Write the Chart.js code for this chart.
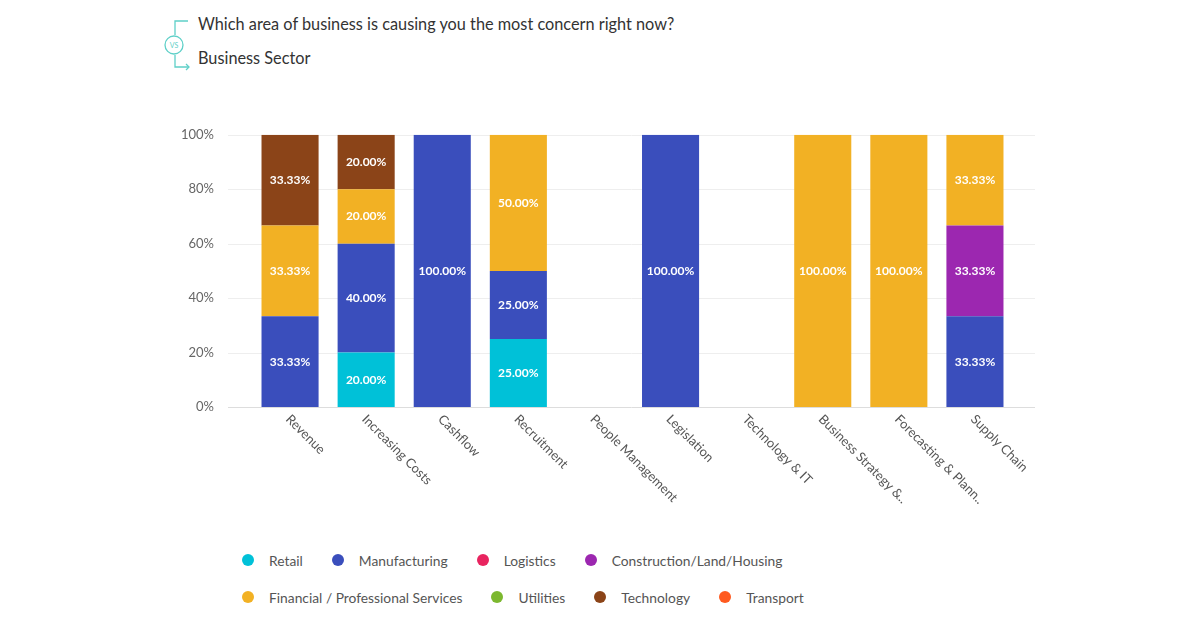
<!DOCTYPE html>
<html><head><meta charset="utf-8">
<script src="https://cdn.jsdelivr.net/npm/chart.js@4"></script>
<style>
body{margin:0;background:#fff;font-family:Lato,sans-serif;width:1200px;height:628px;position:relative;overflow:hidden}
.t{position:absolute;left:198px;color:#333;font-size:16.3px}
#wrap{position:absolute;left:180px;top:97px;width:860px;height:416px}
.lrow{position:absolute;left:242px;display:flex;font-size:13.8px;color:#555}
.li{display:flex;align-items:center;margin-right:29px;height:22px}
.dot{width:12px;height:12px;border-radius:50%;margin-right:15px}
</style></head><body>
<svg style="position:absolute;left:160px;top:18px" width="34" height="54" viewBox="0 0 34 54">
<g fill="none" stroke="#5fd0c8" stroke-width="1.3">
<path d="M28 3 H15 V17"/><circle cx="14" cy="27" r="9"/><path d="M15 37 V49 H29"/><path d="M26 46 L29 49 L26 52"/>
</g><text x="14" y="30" font-size="7" fill="#5fd0c8" text-anchor="middle" font-family="Lato">VS</text></svg>
<div class="t" style="top:14px">Which area of business is causing you the most concern right now?</div>
<div class="t" style="top:48px">Business Sector</div>
<div id="wrap"><canvas id="c"></canvas></div>
<div class="lrow" id="r0" style="top:549px"></div>
<div class="lrow" id="r1" style="top:586px"></div>
<script>
const categories=["Revenue","Increasing Costs","Cashflow","Recruitment","People Management","Legislation","Technology & IT","Business Strategy &..","Forecasting & Plann..","Supply Chain"];
const seriesNames=["Retail","Manufacturing","Logistics","Construction/Land/Housing","Financial / Professional Services","Utilities","Technology","Transport"];
const colors=["#00c1d8","#3a4ebc","#e8245f","#9c27b0","#f2b124","#7cb82f","#8b4418","#ff5a1f"];
const retail=[0,20,0,25,0,0,0,0,0,0];
const manufacturing=[33.33,40,100,25,0,100,0,0,0,33.33];
const logistics=[0,0,0,0,0,0,0,0,0,0];
const construction=[0,0,0,0,0,0,0,0,0,33.33];
const financial=[33.33,20,0,50,0,0,0,100,100,33.33];
const utilities=[0,0,0,0,0,0,0,0,0,0];
const technology=[33.33,20,0,0,0,0,0,0,0,0];
const transport=[0,0,0,0,0,0,0,0,0,0];
const yTicks=["0%","20%","40%","60%","80%","100%"];
const values=[retail,manufacturing,logistics,construction,financial,utilities,technology,transport];

[[0,1,2,3],[4,5,6,7]].forEach((r,k)=>{const row=document.getElementById('r'+k);r.forEach(i=>{const d=document.createElement('div');d.className='li';d.innerHTML='<span class="dot" style="background:'+colors[i]+'"></span>'+seriesNames[i];row.appendChild(d);});});

const gridPlugin={id:'grid',beforeDatasetsDraw(ch){
 const ctx=ch.ctx,ys=ch.scales.y,a=ch.chartArea;ctx.save();ctx.lineWidth=1;
 ys.ticks.forEach(t=>{const y=Math.round(ys.getPixelForValue(t.value))+0.5;ctx.strokeStyle=t.value===0?'#ddd':'#eee';ctx.beginPath();ctx.moveTo(a.left-24,y);ctx.lineTo(a.right+22,y);ctx.stroke();});
 ctx.restore();}};
const labelsPlugin={id:'lbl',afterDatasetsDraw(ch){
 const ctx=ch.ctx;ctx.save();ctx.font='bold 12px Lato';ctx.fillStyle='#fff';ctx.textAlign='center';ctx.textBaseline='middle';
 ch.data.datasets.forEach((ds,di)=>{ch.getDatasetMeta(di).data.forEach((el,i)=>{const v=ds.data[i];if(!v)return;const p=el.getCenterPoint();ctx.fillText(v.toFixed(2)+'%',p.x,p.y);});});
 const xs=ch.scales.x;ctx.font='13px Lato';ctx.fillStyle='#555';ctx.textAlign='left';
 categories.forEach((c,i)=>{const x=xs.getPixelForTick(i);ctx.save();ctx.translate(x-2,xs.top+10);ctx.rotate(Math.PI/4);ctx.fillText(c,0,0);ctx.restore();});
 ctx.restore();}};

new Chart(document.getElementById('c'),{type:'bar',
data:{labels:categories,datasets:values.map((v,i)=>({label:seriesNames[i],data:v,backgroundColor:colors[i],barPercentage:0.75,categoryPercentage:1}))},
options:{animation:false,responsive:true,maintainAspectRatio:false,
layout:{padding:{top:4,bottom:98,right:27}},
plugins:{legend:{display:false},tooltip:{enabled:false}},
scales:{x:{stacked:true,ticks:{display:false},grid:{display:false},border:{display:false}},
y:{stacked:true,min:0,max:100,afterFit:(s)=>{s.width=72;},ticks:{stepSize:20,padding:30,color:'#666',font:{size:13,family:'Lato'},callback:(v)=>yTicks[v/20]},grid:{display:false},border:{display:false}}}},
plugins:[gridPlugin,labelsPlugin]});
</script></body></html>
